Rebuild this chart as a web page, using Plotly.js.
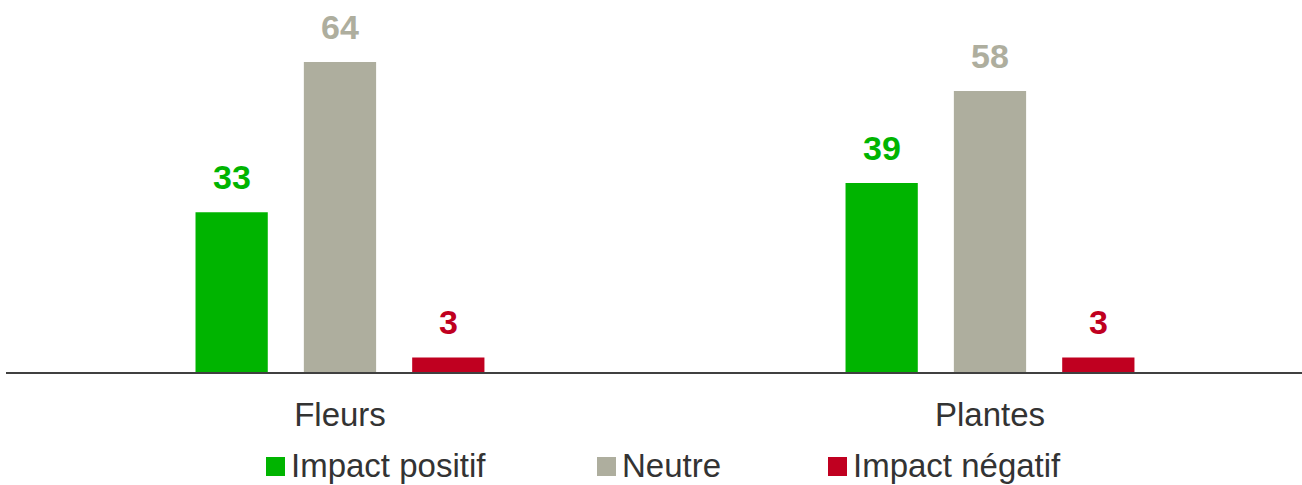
<!DOCTYPE html>
<html>
<head>
<meta charset="utf-8">
<script src="https://cdn.plot.ly/plotly-3.0.1.min.js"></script>
<style>html,body{margin:0;padding:0;background:#fff;}#chart{width:1302px;height:485px;}</style>
</head>
<body>
<div id="chart"></div>
<script>
const categories = ['Fleurs', 'Plantes'];
const seriesNames = ['Impact positif', 'Neutre', 'Impact négatif'];
const positif = [33, 39];
const neutre = [64, 58];
const negatif = [3, 3];
const seriesValues = [positif, neutre, negatif];
const colors = ['#00B400', '#AEAE9E', '#C00020'];

const W = 1302, H = 485, ML = 6, MR = 0, MT = 0, MB = 113;
const PW = W - ML - MR, PH = H - MT - MB;
const px2paperX = p => (p - ML) / PW;
const px2paperY = p => (H - MB - p) / PH;

const traces = seriesNames.map((name, i) => ({
  type: 'bar',
  name: name,
  x: categories,
  y: seriesValues[i],
  marker: {color: colors[i]},
  showlegend: false,
  hoverinfo: 'none'
}));

const annotations = [];
const slot = 1 / 6;
seriesValues.forEach((vals, i) => {
  vals.forEach((v, k) => {
    annotations.push({
      x: k + (i - 1) * slot, y: v, xref: 'x', yref: 'y',
      text: '<b>' + v + '</b>', showarrow: false,
      xanchor: 'center', yanchor: 'bottom', yshift: 14,
      font: {family: 'Liberation Sans, Arial, sans-serif', size: 34, color: colors[i]}
    });
  });
});

// custom legend
const legendX = [266, 597, 828];
const shapes = [];
seriesNames.forEach((name, i) => {
  shapes.push({
    type: 'rect', xref: 'paper', yref: 'paper',
    x0: px2paperX(legendX[i]), x1: px2paperX(legendX[i] + 19),
    y0: px2paperY(476), y1: px2paperY(457),
    fillcolor: colors[i], line: {width: 0}
  });
  annotations.push({
    xref: 'paper', yref: 'paper',
    x: px2paperX(legendX[i] + 23), y: px2paperY(465),
    xanchor: 'left', yanchor: 'middle', showarrow: false,
    text: name,
    font: {family: 'Liberation Sans, Arial, sans-serif', size: 33, color: '#333333'}
  });
});

const layout = {
  width: W, height: H,
  margin: {l: ML, r: MR, t: MT, b: MB, pad: 0},
  paper_bgcolor: '#ffffff', plot_bgcolor: '#ffffff',
  barmode: 'group', bargap: 0.5, bargroupgap: 0.333,
  showlegend: false,
  xaxis: {
    type: 'category', range: [-0.5138, 1.48],
    showline: true, linecolor: '#404040', linewidth: 2,
    ticks: '', showgrid: false, zeroline: false,
    ticklabelstandoff: 12,
    tickfont: {family: 'Liberation Sans, Arial, sans-serif', size: 33, color: '#333333'}
  },
  yaxis: {
    range: [0, 76.8], visible: false, showgrid: false, zeroline: false
  },
  annotations: annotations,
  shapes: shapes,
  font: {family: 'Liberation Sans, Arial, sans-serif'}
};

Plotly.newPlot('chart', traces, layout, {displayModeBar: false, staticPlot: true});
</script>
</body>
</html>
